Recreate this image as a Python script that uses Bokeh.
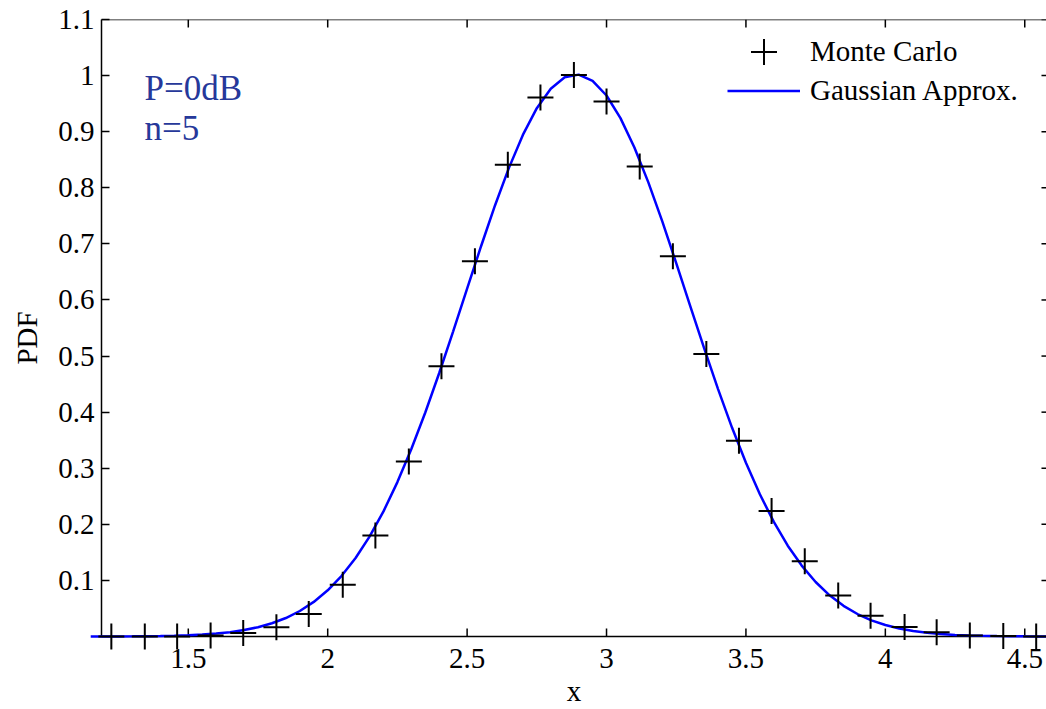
from bokeh.plotting import figure
from bokeh.models import Range1d, FixedTicker, Legend, LegendItem, Label, Span
from bokeh.embed import file_html
from bokeh.resources import INLINE

# ---- data ----
mc_x = [1.224, 1.344, 1.460, 1.580, 1.697, 1.816, 1.932, 2.054, 2.171, 2.291,
        2.408, 2.528, 2.646, 2.763, 2.883, 3.000, 3.119, 3.238, 3.358, 3.475,
        3.592, 3.711, 3.831, 3.947, 4.069, 4.184, 4.303, 4.423, 4.541]
mc_y = [0.0, 0.0, 0.0, 0.002, 0.0065, 0.0166, 0.040, 0.0925, 0.180, 0.312,
        0.482, 0.669, 0.841, 0.961, 1.001, 0.954, 0.838, 0.678, 0.5036, 0.349,
        0.224, 0.134, 0.073, 0.037, 0.017, 0.0077, 0.002, 0.001, 0.0]

curve_x = [1.15, 1.20, 1.25, 1.30, 1.35, 1.40, 1.45, 1.50, 1.55, 1.60, 1.65, 1.70,
           1.75, 1.80, 1.85, 1.90, 1.95, 2.00, 2.05, 2.10, 2.15, 2.20, 2.25, 2.30,
           2.35, 2.40, 2.45, 2.50, 2.55, 2.60, 2.65, 2.70, 2.75, 2.80, 2.85, 2.90,
           2.95, 3.00, 3.05, 3.10, 3.15, 3.20, 3.25, 3.30, 3.35, 3.40, 3.45, 3.50,
           3.55, 3.60, 3.65, 3.70, 3.75, 3.80, 3.85, 3.90, 3.95, 4.00, 4.05, 4.10,
           4.15, 4.20, 4.25, 4.30, 4.35, 4.40, 4.45, 4.50, 4.55, 4.60]
curve_y = [0.0001, 0.0001, 0.0002, 0.0003, 0.0006, 0.0009, 0.0014, 0.0023, 0.0035, 0.0053,
           0.0078, 0.0115, 0.0166, 0.0236, 0.0330, 0.0455, 0.0617, 0.0824, 0.1082, 0.1399,
           0.1781, 0.2231, 0.2753, 0.3342, 0.3994, 0.4698, 0.5441, 0.6201, 0.6958, 0.7685,
           0.8355, 0.8942, 0.9419, 0.9767, 0.9970, 1.0017, 0.9907, 0.9645, 0.9242, 0.8718,
           0.8096, 0.7400, 0.6657, 0.5896, 0.5140, 0.4411, 0.3725, 0.3098, 0.2536, 0.2043,
           0.1620, 0.1265, 0.0972, 0.0735, 0.0547, 0.0401, 0.0289, 0.0205, 0.0144, 0.0099,
           0.0067, 0.0045, 0.0029, 0.0019, 0.0012, 0.0008, 0.0005, 0.0003, 0.0002, 0.0001]

x_ticks = [1.5, 2, 2.5, 3, 3.5, 4, 4.5]
x_tick_labels = ["1.5", "2", "2.5", "3", "3.5", "4", "4.5"]
y_ticks = [0.1, 0.2, 0.3, 0.4, 0.5, 0.6, 0.7, 0.8, 0.9, 1, 1.1]
y_tick_labels = ["0.1", "0.2", "0.3", "0.4", "0.5", "0.6", "0.7", "0.8", "0.9", "1", "1.1"]

series_names = ["Monte Carlo", "Gaussian Approx."]
note_lines = ["P=0dB", "n=5"]

FONT = "Liberation Serif"
NAVY = "#26389a"
X0, X1 = 1.1887, 4.578
Y0, Y1 = -0.0356, 1.1
TICK_Y = 0.0142   # 8 px in y data units
TICK_X = 0.018    # 5 px in x data units

p = figure(width=1046, height=709, output_backend="svg", toolbar_location=None,
           x_range=Range1d(X0, X1), y_range=Range1d(Y0, Y1),
           min_border_left=101, min_border_right=0, min_border_top=19, min_border_bottom=52,
           x_axis_label="x", y_axis_label="PDF")
p.grid.visible = False
p.outline_line_color = None
p.background_fill_color = "white"
p.border_fill_color = "white"


def style(ax):
    ax.minor_tick_in = 0
    ax.minor_tick_out = 0
    ax.major_label_text_font = FONT
    ax.major_label_text_font_size = "29px"
    ax.major_label_text_color = "black"
    ax.axis_label_text_font = FONT
    ax.axis_label_text_font_size = "29px"
    ax.axis_label_text_font_style = "normal"
    ax.axis_label_text_color = "black"


# bottom axis: labels only (its line and ticks are drawn at y=0 below)
xa = p.xaxis[0]
style(xa)
xa.ticker = FixedTicker(ticks=x_ticks)
xa.major_label_overrides = dict(zip(x_ticks, x_tick_labels))
xa.axis_line_color = None
xa.major_tick_in = 0
xa.major_tick_out = 0
xa.major_label_standoff = -8
xa.axis_label_standoff = 4

ya = p.yaxis[0]
style(ya)
ya.ticker = FixedTicker(ticks=y_ticks)
ya.major_label_overrides = dict(zip(y_ticks, y_tick_labels))
ya.bounds = (0, 1.1)
ya.axis_line_width = 1.5
ya.axis_line_color = "black"
ya.major_tick_in = 8
ya.major_tick_out = 0
ya.major_tick_line_width = 1.5
ya.major_label_standoff = 7
ya.axis_label_standoff = 12

# x axis line at y=0 and top box line
p.add_layout(Span(location=0, dimension="width", line_color="black", line_width=1.5))
p.add_layout(Span(location=Y1, dimension="width", line_color="black", line_width=1.5))

# inward ticks: bottom, top, right
p.segment(x0=x_ticks, y0=[0] * len(x_ticks), x1=x_ticks, y1=[TICK_Y] * len(x_ticks),
          line_color="black", line_width=1.5)
p.segment(x0=x_ticks, y0=[Y1] * len(x_ticks), x1=x_ticks, y1=[Y1 - TICK_Y] * len(x_ticks),
          line_color="black", line_width=1.5)
p.segment(x0=[X1] * len(y_ticks), y0=y_ticks, x1=[X1 - TICK_X] * len(y_ticks), y1=y_ticks,
          line_color="black", line_width=1.5)

line_r = p.line(curve_x, curve_y, line_color="#0000ff", line_width=2.5, level="overlay")
mc_r = p.scatter(mc_x, mc_y, marker="cross", size=26, line_color="black",
                 line_width=2, level="overlay")

common = dict(glyph_width=73, label_standoff=10, padding=0, margin=0, spacing=0,
              border_line_color=None, background_fill_alpha=0,
              label_text_font=FONT, label_text_font_size="29px", label_text_color="black")
leg1 = Legend(items=[LegendItem(label=series_names[0], renderers=[mc_r])],
              location=(626, 572.5), glyph_height=65, label_height=65, **common)
leg2 = Legend(items=[LegendItem(label=series_names[1], renderers=[line_r])],
              location=(626, 546.5), glyph_height=39, label_height=39, **common)
p.add_layout(leg1)
p.add_layout(leg2)

p.add_layout(Label(x=1.343, y=0.9763, text=note_lines[0], text_font=FONT,
                   text_font_size="35px", text_color=NAVY, text_baseline="alphabetic"))
p.add_layout(Label(x=1.343, y=0.905, text=note_lines[1], text_font=FONT,
                   text_font_size="35px", text_color=NAVY, text_baseline="alphabetic"))

open("out.html", "w").write(file_html(p, INLINE))
